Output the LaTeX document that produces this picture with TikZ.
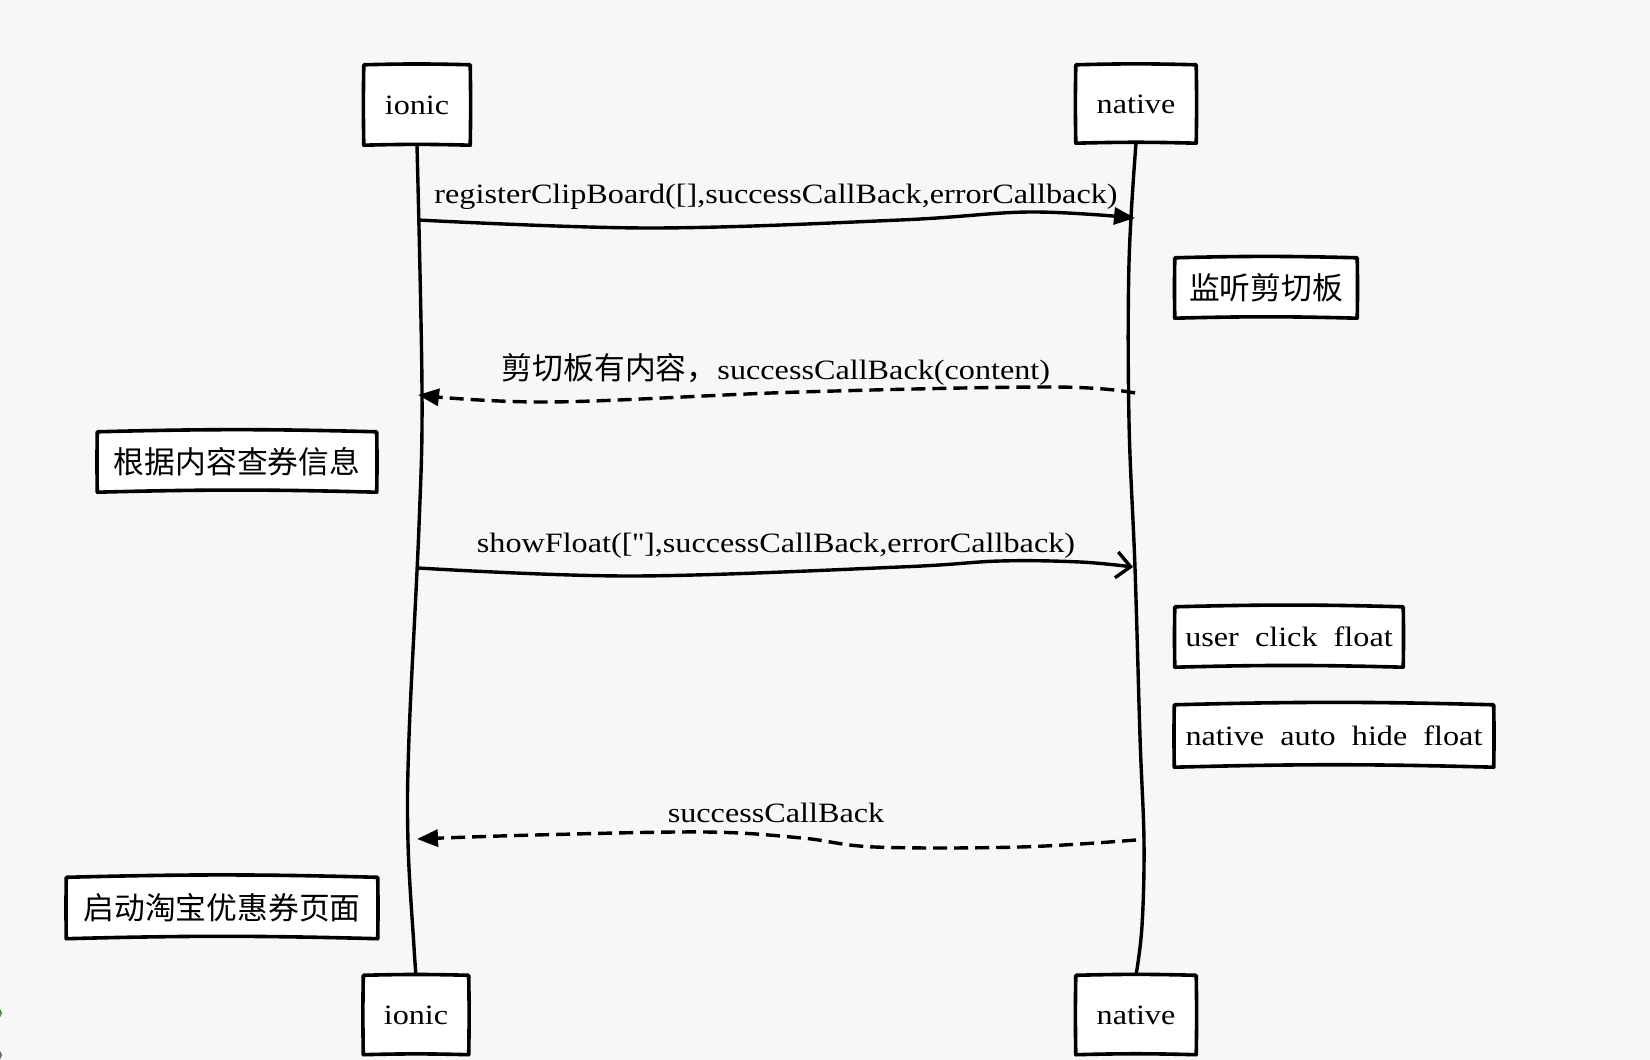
\documentclass[tikz,border=0pt]{standalone}
\usepackage{fontspec}
\setmainfont{Liberation Serif}[FakeStretch=1.15]
\newfontfamily\rawserif{Liberation Serif}[FakeStretch=1.15, Ligatures=TeXOff]
\newfontfamily\cjk{Noto Sans CJK SC}[Scale=1.1]
\usetikzlibrary{arrows.meta}
\definecolor{bg}{HTML}{F7F7F7}
\definecolor{dotgreen}{HTML}{3A9A2A}
\definecolor{dotgray}{HTML}{5F6F7F}
\tikzset{
  lbl/.style={font=\fontsize{28}{32}\selectfont, inner sep=0pt, anchor=base},
  boxn/.style={fill=white, draw=none, inner sep=0pt, font=\fontsize{28}{32}\selectfont},
  boxline/.style={line width=3.6pt, line join=round},
  lifeline/.style={line width=3.4pt},
  msg/.style={line width=3.4pt, line join=round},
  ret/.style={line width=3.4pt, dash pattern=on 14pt off 7pt},
  filltip/.style={-{Triangle[length=21pt,width=17pt]}},
  opentip/.style={-{Straight Barb[length=14pt,width=26pt,line width=3.4pt]}},
}
\newcommand\wobblebox[1]{%
  \draw[boxline] (#1.north west) to[bend left=1.5] (#1.north east)
    to[bend left=1] (#1.south east) to[bend right=1.5] (#1.south west)
    to[bend left=1] cycle;}
\begin{document}
\begin{tikzpicture}[x=1pt,y=-1pt]
\fill[bg] (0,0) rectangle (1650,1060);
\useasboundingbox (0,0) rectangle (1650,1060);
\fill[dotgreen] (-3,1013) circle (5);
\fill[dotgray] (-3,1055) circle (5);

% participant boxes
\node[boxn, minimum width=106pt, minimum height=80pt] (it) at (417,105) {ionic};
\node[boxn, minimum width=120pt, minimum height=78pt] (nt) at (1136,104) {native};
\node[boxn, minimum width=105pt, minimum height=79pt] (ib) at (416,1015) {ionic};
\node[boxn, minimum width=120pt, minimum height=79pt] (nb) at (1136,1015) {native};
\wobblebox{it}\wobblebox{nt}\wobblebox{ib}\wobblebox{nb}

% notes
\node[boxn, minimum width=182pt, minimum height=60pt] (n1) at (1266,288) {\cjk 监听剪切板};
\node[boxn, minimum width=279pt, minimum height=60pt] (i1) at (237,462) {\cjk 根据内容查券信息};
\node[boxn, minimum width=228pt, minimum height=60pt] (n2) at (1289,637) {user~~click~~float};
\node[boxn, minimum width=319pt, minimum height=62pt] (n3) at (1334,736) {native~~auto~~hide~~float};
\node[boxn, minimum width=311pt, minimum height=61pt] (i2) at (222,908) {\cjk 启动淘宝优惠券页面};
\wobblebox{n1}\wobblebox{i1}\wobblebox{n2}\wobblebox{n3}\wobblebox{i2}

% lifelines
\draw[lifeline] plot[smooth, tension=0.6] coordinates
  {(it.south) (422,390) (419,526) (409,737) (408,842) (414,947) (ib.north)};
\draw[lifeline] plot[smooth, tension=0.6] coordinates
  {(nt.south) (1129,263) (1129,421) (1135,568) (1140,737) (1144,842) (1142,926) (nb.north)};

% message 1
\coordinate (m1a) at (418,220);
\coordinate (m1b) at (1135,218);
\draw[msg, filltip] plot[smooth, tension=0.6] coordinates
  {(m1a) (650,228) (900,220) (1030,212) (m1b)};
\node[lbl] (t1) at (776,203) {registerClipBoard([],successCallBack,errorCallback)};

% message 2
\coordinate (m2a) at (1135,393);
\coordinate (m2b) at (418,395);
\draw[ret, filltip] plot[smooth, tension=0.6] coordinates
  {(m2a) (1053,387) (800,392) (550,402) (m2b)};
\node[lbl] (t2) at (776,379) {{\cjk 剪切板有内容，}successCallBack(content)};

% message 3
\coordinate (m3a) at (418,568);
\coordinate (m3b) at (1133,567);
\draw[msg, opentip] plot[smooth, tension=0.6] coordinates
  {(m3a) (632,576) (900,567) (1000,561) (1080,562) (m3b)};
\node[lbl] (t3) at (776,552) {showFloat([{\rawserif ''}],successCallBack,errorCallback)};

% message 4
\coordinate (m4a) at (1136,840);
\coordinate (m4b) at (417,839);
\draw[ret, filltip] plot[smooth, tension=0.6] coordinates
  {(m4a) (1020,847) (875,847) (802,838) (705,832) (535,835) (m4b)};
\node[lbl] (t4) at (776,822) {successCallBack};
\end{tikzpicture}
\end{document}
